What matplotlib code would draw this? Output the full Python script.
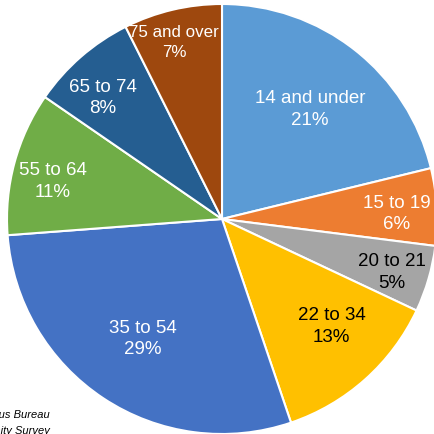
import matplotlib
matplotlib.use("Agg")
import matplotlib.pyplot as plt
import numpy as np

categories = ["14 and under", "15 to 19", "20 to 21", "22 to 34", "35 to 54", "55 to 64", "65 to 74", "75 and over"]
values = [21.2, 5.8, 5.0, 12.8, 29.0, 10.8, 8.0, 7.4]
pct_labels = ["21%", "6%", "5%", "13%", "29%", "11%", "8%", "7%"]
colors = ["#5B9BD5", "#ED7D31", "#A5A5A5", "#FFC000", "#4472C4", "#70AD47", "#255E91", "#9E480E"]
text_colors = ["white", "white", "black", "black", "white", "white", "white", "white"]
# label layout (radius fraction, angle in degrees, font size)
label_dist = [0.653, 0.814, 0.829, 0.714, 0.668, 0.805, 0.789, 0.851]
label_angle = [51.2, 1.6, -17.5, -44.5, -123.4, 167.6, 134.5, 105.2]
label_size = [13.5, 13.5, 13.5, 13.5, 13.5, 13.5, 13.5, 12.2]

W, H = 435, 434
fig = plt.figure(figsize=(W / 100, H / 100), dpi=100)
ax = fig.add_axes([0, 0, 1, 1])
R = 215.0
cx, cy = 222.0, 219.0  # pixels from left / top

wedges, _ = ax.pie(values, colors=colors, startangle=90, counterclock=False,
                   radius=1.0, wedgeprops=dict(edgecolor="white", linewidth=1.5))
for cat, pct, tc, d, a, fs in zip(categories, pct_labels, text_colors, label_dist, label_angle, label_size):
    ang = np.deg2rad(a)
    ax.text(d * np.cos(ang), d * np.sin(ang), f"{cat}\n{pct}", color=tc,
            fontsize=fs, family=["Liberation Sans", "DejaVu Sans"],
            ha="center", va="center", multialignment="center", linespacing=1.36)

ax.set_xlim(-cx / R, (W - cx) / R)
ax.set_ylim(-(H - cy) / R, cy / R)
ax.set_aspect("auto")
ax.axis("off")

fig.text(50 / W, 1 - 415 / H, "Source: U.S. Census Bureau", ha="right", va="center",
         fontsize=8, style="italic", family=["Liberation Sans", "DejaVu Sans"], color="black")
fig.text(50 / W, 1 - 431 / H, "American Community Survey", ha="right", va="center",
         fontsize=8, style="italic", family=["Liberation Sans", "DejaVu Sans"], color="black")

fig.savefig("out.png", dpi=100)
